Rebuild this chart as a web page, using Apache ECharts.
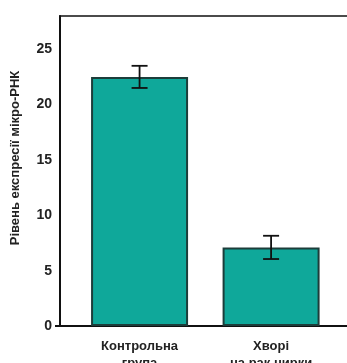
<!DOCTYPE html>
<html><head><meta charset="utf-8">
<script src="https://cdn.jsdelivr.net/npm/echarts@6/dist/echarts.min.js"></script>
<style>html,body{margin:0;padding:0;background:#fff}#c{width:347px;height:363px}</style>
</head><body><div id="c"></div>
<script>
var categories = ['Контрольна\nгрупа', 'Хворі\nна рак нирки'];
var means = [22.5, 7.1];
var errors = [1.0, 1.05];
var yTicks = [0, 5, 10, 15, 20, 25];
var yName = 'Рівень експресії мікро-РНК';

var font = '"Liberation Sans Narrow", "Liberation Sans", Arial, sans-serif';
var barData = means.map(function (v, i) { return [i, v]; });
var errData = means.map(function (v, i) { return [i, v - errors[i], v + errors[i]]; });

var chart = echarts.init(document.getElementById('c'));
chart.setOption({
  animation: false,
  grid: { left: 60, right: -3, top: 16, bottom: 37, show: true, borderColor: '#111', borderWidth: 1.5, outerBoundsMode: 'none', containLabel: false },
  xAxis: {
    type: 'value', min: -0.605, max: 1.6,
    splitLine: { show: false },
    axisLine: { show: true, onZero: false, lineStyle: { color: '#111', width: 2 } },
    axisTick: { show: false },
    axisLabel: {
      customValues: [0, 1],
      formatter: function (v) { return categories[Math.round(v)]; },
      color: '#222', fontFamily: font, fontWeight: 'bold', fontSize: 13, lineHeight: 17, margin: 12
    }
  },
  yAxis: {
    type: 'value', min: 0, max: 28,
    splitLine: { show: false },
    axisLine: { show: true, onZero: false, lineStyle: { color: '#111', width: 2 } },
    axisTick: { show: true, customValues: [0], length: 5, lineStyle: { color: '#111', width: 2 } },
    axisLabel: {
      customValues: yTicks,
      color: '#222', fontFamily: font, fontWeight: 'bold', fontSize: 14, margin: 8
    }
  },
  graphic: [{
    type: 'text', x: 15, y: 158, rotation: Math.PI / 2,
    style: { text: yName, fill: '#222', font: 'bold 13px ' + font, align: 'center', verticalAlign: 'middle' }
  }],
  series: [{
    type: 'bar', data: barData, barWidth: 97,
    itemStyle: { color: '#0fa89a', borderColor: '#1c3d3a', borderWidth: 2 }
  }, {
    type: 'custom', data: errData, z: 10,
    renderItem: function (params, api) {
      var x = api.value(0);
      var lo = api.coord([x, api.value(1)]);
      var hi = api.coord([x, api.value(2)]);
      var hw = 8;
      var st = { stroke: '#111', lineWidth: 1.8 };
      return { type: 'group', children: [
        { type: 'line', shape: { x1: lo[0], y1: lo[1], x2: hi[0], y2: hi[1] }, style: st },
        { type: 'line', shape: { x1: hi[0] - hw, y1: hi[1], x2: hi[0] + hw, y2: hi[1] }, style: st },
        { type: 'line', shape: { x1: lo[0] - hw, y1: lo[1], x2: lo[0] + hw, y2: lo[1] }, style: st }
      ]};
    }
  }]
});
</script></body></html>
